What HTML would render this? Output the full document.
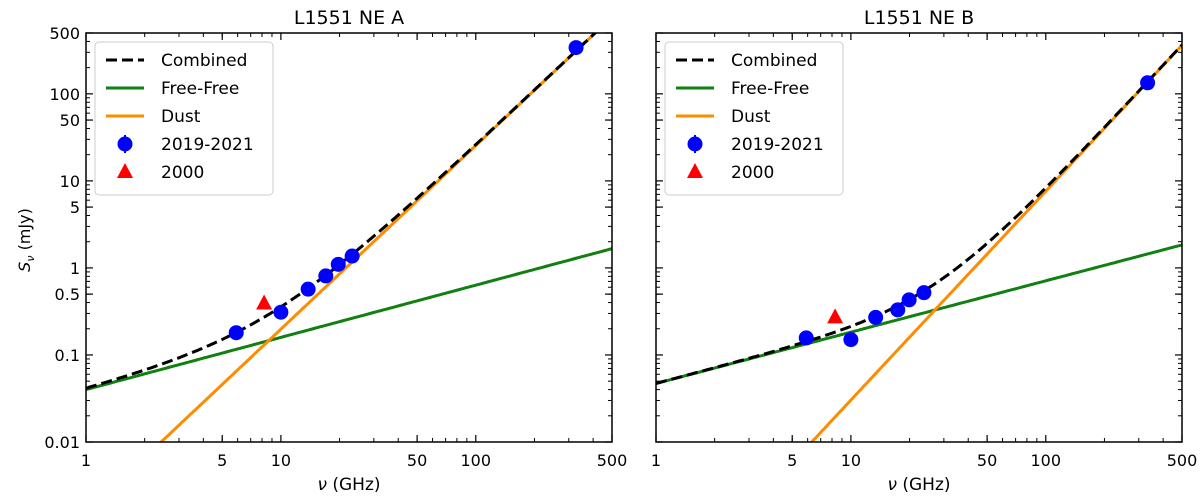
<!DOCTYPE html>
<html><head><meta charset="utf-8"><style>
html,body{margin:0;background:#fff;overflow:hidden;width:1200px;height:498px;font-family:"Liberation Sans","DejaVu Sans",sans-serif}
svg{display:block}
svg text{font-family:"DejaVu Sans","Liberation Sans",sans-serif}
</style></head><body>
<svg id="c" width="1200" height="498" xmlns="http://www.w3.org/2000/svg"></svg>
<script>
const xTicks=[1,5,10,50,100,500];
const yTicks=[0.01,0.1,0.5,1,5,10,50,100,500];
const titles=["L1551 NE A","L1551 NE B"];
const freqA=[5.9,10,13.8,17,19.7,23.2,327];
const fluxA=[0.18,0.31,0.57,0.81,1.1,1.37,340];
const freqB=[5.9,10,13.4,17.4,19.9,23.7,333];
const fluxB=[0.157,0.15,0.27,0.33,0.43,0.52,134];
const tri=[[8.2,0.39],[8.3,0.27]];
const ffAmp=[0.04,0.047], ffIdx=[0.6,0.59];
const dustNu0=[2.43,6.3], dustIdx=[2.11,2.4];
const svg=document.getElementById('c');
const NS="http://www.w3.org/2000/svg";
function mk(t,a,p){const e=document.createElementNS(NS,t);for(const k in a)e.setAttribute(k,a[k]);(p||svg).appendChild(e);return e;}
const Y0=33,Y1=442;
const sy=v=>Y1-(Math.log10(v)+2)/Math.log10(50000)*(Y1-Y0);
const panels=[86,656];const W=526;
panels.forEach((L,pi)=>{
 const sx=v=>L+Math.log10(v)/Math.log10(500)*W;
 const g=mk('g',{});
 
 
 const clip=mk('clipPath',{id:'cl'+pi},g);mk('rect',{x:L,y:Y0,width:W,height:Y1-Y0},clip);
 for(let d=0;d<3;d++)for(let m=2;m<10;m++){const v=m*Math.pow(10,d);if(v>500)break;const x=sx(v);
  mk('line',{x1:x,x2:x,y1:Y1,y2:Y1-4,stroke:'#000','stroke-width':1},g);mk('line',{x1:x,x2:x,y1:Y0,y2:Y0+4,stroke:'#000','stroke-width':1},g);}
 for(let d=-2;d<3;d++)for(let m=2;m<10;m++){const v=m*Math.pow(10,d);if(v>500)break;const y=sy(v);
  mk('line',{x1:L,x2:L+4,y1:y,y2:y,stroke:'#000','stroke-width':1},g);mk('line',{x1:L+W,x2:L+W-4,y1:y,y2:y,stroke:'#000','stroke-width':1},g);}
 xTicks.forEach(v=>{const x=sx(v);mk('line',{x1:x,x2:x,y1:Y1,y2:Y1-7,stroke:'#000','stroke-width':1.2},g);mk('line',{x1:x,x2:x,y1:Y0,y2:Y0+7,stroke:'#000','stroke-width':1.2},g);
  const t=mk('text',{x:x,y:Y1+24,'font-size':16,'text-anchor':'middle'},g);t.textContent=v;
  });
 yTicks.forEach(v=>{const y=sy(v);mk('line',{x1:L,x2:L+7,y1:y,y2:y,stroke:'#000','stroke-width':1.2},g);mk('line',{x1:L+W,x2:L+W-7,y1:y,y2:y,stroke:'#000','stroke-width':1.2},g);
  if(pi===0){const t=mk('text',{x:L-6,y:y+6,'font-size':16,'text-anchor':'end'},g);t.textContent=v;
  }});
 const xt=mk('text',{x:L+W/2,y:490,'font-size':17,'text-anchor':'middle'},g);xt.innerHTML='<tspan font-style="italic">ν</tspan> (GHz)';
 
 const tt=mk('text',{x:L+W/2,y:24,'font-size':19,'text-anchor':'middle'},g);tt.textContent=titles[pi];
 
 const cg=mk('g',{'clip-path':'url(#cl'+pi+')'},g);
 const ff=v=>ffAmp[pi]*Math.pow(v,ffIdx[pi]);
 const du=v=>0.01*Math.pow(v/dustNu0[pi],dustIdx[pi]);
 function path(f){let d='';for(let i=0;i<=300;i++){const v=Math.pow(500,i/300);d+=(i?'L':'M')+sx(v).toFixed(1)+','+sy(f(v)).toFixed(1);}return d;}
 let p=mk('path',{d:path(ff),fill:'none',stroke:'#118011','stroke-width':3},cg);
 p=mk('path',{d:path(du),fill:'none',stroke:'#ff8c00','stroke-width':3},cg);
 p=mk('path',{d:path(v=>ff(v)+du(v)),fill:'none',stroke:'#000','stroke-width':3,'stroke-dasharray':'11,5'},cg);
 const fr=pi?freqB:freqA, fl=pi?fluxB:fluxA;
 fr.forEach((v,i)=>{const c=mk('circle',{cx:sx(v),cy:sy(fl[i]),r:7.5,fill:'#0000ff'},cg);
  });
 const tx=sx(tri[pi][0]),ty=sy(tri[pi][1]);
 const tr=mk('polygon',{points:`${tx},${ty-9} ${tx-8},${ty+6} ${tx+8},${ty+6}`,fill:'#ff0000'},cg);
 
 mk('rect',{x:L,y:Y0,width:W,height:Y1-Y0,fill:'none',stroke:'#000','stroke-width':1.5},g);
 const lg=mk('g',{},g);
 mk('rect',{x:L+9,y:42,width:178,height:153,rx:4,fill:'#fff',stroke:'#ccc'},lg);
 const items=[['Combined','dash'],['Free-Free','#118011'],['Dust','#ff8c00'],['2019-2021','circ'],['2000','tri']];
 items.forEach((it,i)=>{const y=60+i*28;const x0=L+20;
  if(it[1]==='dash')mk('line',{x1:x0,x2:x0+38,y1:y,y2:y,stroke:'#000','stroke-width':3,'stroke-dasharray':'11,5'},lg);
  else if(it[1]==='circ'){mk('line',{x1:x0+19,x2:x0+19,y1:y-9,y2:y+9,stroke:'#0000ff','stroke-width':2},lg);mk('circle',{cx:x0+19,cy:y,r:7.5,fill:'#0000ff'},lg);}
  else if(it[1]==='tri')mk('polygon',{points:`${x0+19},${y-9} ${x0+11},${y+6} ${x0+27},${y+6}`,fill:'#ff0000'},lg);
  else mk('line',{x1:x0,x2:x0+38,y1:y,y2:y,stroke:it[1],'stroke-width':3},lg);
  const t=mk('text',{x:x0+55,y:y+6,'font-size':17},lg);t.textContent=it[0];
  });
});
const yl=mk('text',{x:0,y:0,'font-size':16,'text-anchor':'middle',transform:'translate(30,240) rotate(-90)'});
yl.innerHTML='<tspan font-style="italic">S</tspan><tspan font-style="italic" font-size="11" dy="4">ν</tspan><tspan dy="-4"> (mJy)</tspan>';


</script>
</body></html>
